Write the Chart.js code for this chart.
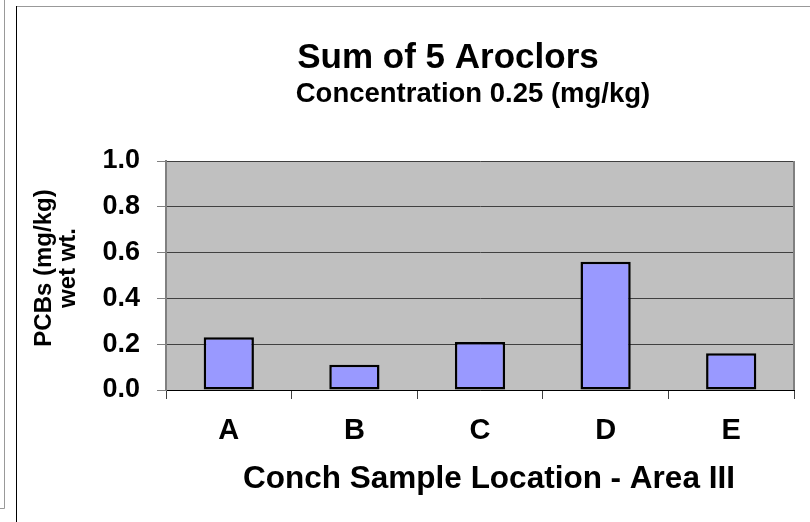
<!DOCTYPE html>
<html>
<head>
<meta charset="utf-8">
<script src="https://cdn.jsdelivr.net/npm/chart.js@4.4.1/dist/chart.umd.min.js"></script>
<style>
    body { margin: 0; background: #fff; }
    #wrap { position: relative; width: 810px; height: 522px; }
</style>
</head>
<body>
<div id="wrap"><canvas id="chart" width="810" height="522"></canvas></div>
<script>
// data
let locations = ["A", "B", "C", "D", "E"];
let pcbValues = [0.23, 0.11, 0.21, 0.56, 0.16];
let yTicks = [0.0, 0.2, 0.4, 0.6, 0.8, 1.0];

let titleText = "Sum of 5 Aroclors";
let subtitleText = "Concentration 0.25 (mg/kg)";
let xTitleText = "Conch Sample Location - Area III";
let yTitleLines = ["PCBs (mg/kg)", "wet wt."];

let canvas = document.getElementById("chart");
let context = canvas.getContext('2d');
const fontFamily = "Arial, 'Liberation Sans', sans-serif";

// gray plot background, frame lines and the titles
const decorations = {
    id: 'decorations',
    beforeDraw(chart) {
        let ctx = chart.ctx;
        let a = chart.chartArea;
        ctx.save();
        ctx.fillStyle = "#ffffff";
        ctx.fillRect(0, 0, chart.width, chart.height);
        ctx.fillStyle = "#c0c0c0";
        ctx.fillRect(a.left, a.top, a.right - a.left, a.bottom - a.top);

        // outer frames
        ctx.lineWidth = 1;
        ctx.strokeStyle = "#999999";
        ctx.beginPath();
        ctx.moveTo(4.5, 0);
        ctx.lineTo(4.5, 508.5);
        ctx.lineTo(0, 508.5);
        ctx.moveTo(16, 6.5);
        ctx.lineTo(810, 6.5);
        ctx.stroke();
        ctx.strokeStyle = "#000000";
        ctx.beginPath();
        ctx.moveTo(16.5, 6);
        ctx.lineTo(16.5, 522);
        ctx.stroke();
        ctx.restore();
    },
    afterDraw(chart) {
        let ctx = chart.ctx;
        let a = chart.chartArea;
        ctx.save();
        // right border of the plot
        ctx.strokeStyle = "#808080";
        ctx.lineWidth = 2;
        ctx.beginPath();
        ctx.moveTo(a.right, a.top);
        ctx.lineTo(a.right, a.bottom);
        ctx.stroke();

        ctx.fillStyle = "#000000";
        ctx.textAlign = "center";
        ctx.textBaseline = "alphabetic";
        ctx.font = "bold 35px " + fontFamily;
        ctx.fillText(titleText, 448, 68);
        ctx.font = "bold 27.5px " + fontFamily;
        ctx.fillText(subtitleText, 473, 102);
        ctx.font = "bold 31.5px " + fontFamily;
        ctx.fillText(xTitleText, 489, 488);

        // two-line vertical axis title
        ctx.font = "bold 24px " + fontFamily;
        ctx.save();
        ctx.translate(51, 268);
        ctx.rotate(-Math.PI / 2);
        ctx.fillText(yTitleLines[0], 0, 0);
        ctx.restore();
        ctx.save();
        ctx.translate(75, 268);
        ctx.rotate(-Math.PI / 2);
        ctx.fillText(yTitleLines[1], 0, 0);
        ctx.restore();
        ctx.restore();
    }
};

let chart = new Chart(context, {
    type: 'bar',
    data: {
        labels: locations,
        datasets: [
            {
                data: pcbValues,
                backgroundColor: "#9999ff",
                borderColor: "#000000",
                borderWidth: 2.5,
                borderSkipped: false,
                barPercentage: 0.4,
                categoryPercentage: 1.0
            }
        ]
    },
    options: {
        responsive: false,
        animation: false,
        layout: {
            padding: { left: 0, top: 161, right: 16, bottom: 0 }
        },
        plugins: {
            legend: { display: false },
            tooltip: { enabled: false }
        },
        scales: {
            x: {
                afterFit: function(scale) { scale.height = 132; },
                grid: {
                    offset: true,
                    drawOnChartArea: false,
                    drawTicks: true,
                    tickLength: 9,
                    color: "#404040"
                },
                border: { color: "#000000", width: 1 },
                ticks: {
                    color: "#000000",
                    padding: 15,
                    font: { family: fontFamily, size: 29, weight: "bold" }
                }
            },
            y: {
                min: 0,
                max: 1,
                afterFit: function(scale) { scale.width = 166; },
                afterBuildTicks: function(scale) {
                    scale.ticks = yTicks.map(v => ({ value: v }));
                },
                grid: {
                    color: "#404040",
                    tickColor: "#808080",
                    tickLength: 9,
                    lineWidth: 1
                },
                border: { color: "#808080", width: 2 },
                ticks: {
                    color: "#000000",
                    padding: 17,
                    callback: v => Number(v).toFixed(1),
                    font: { family: fontFamily, size: 27, weight: "bold" }
                }
            }
        }
    },
    plugins: [decorations]
});
</script>
</body>
</html>
